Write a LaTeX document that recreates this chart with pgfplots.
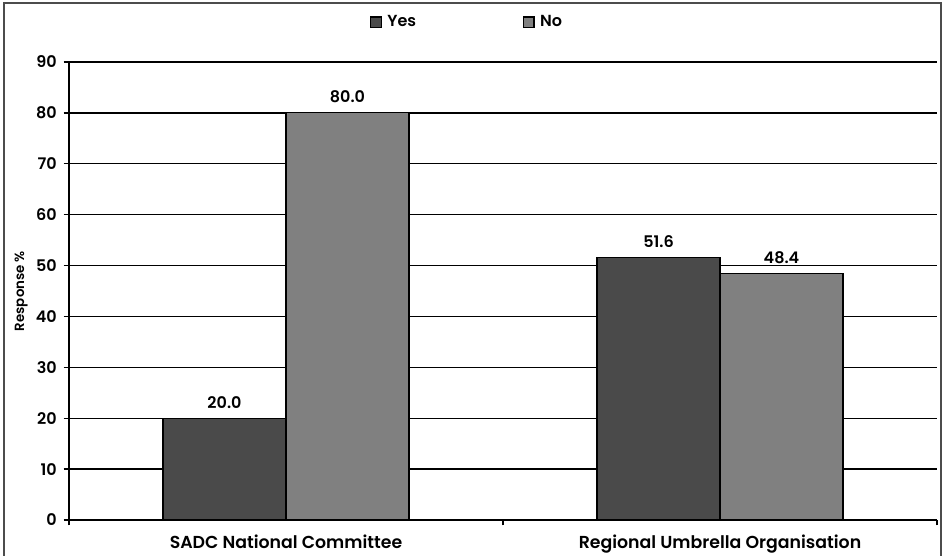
\documentclass[border=0pt]{standalone}
\usepackage{fontspec}
\setmainfont{Poppins}[BoldFont={Poppins SemiBold}]
\usepackage{pgfplots}
\pgfplotsset{compat=1.18}
\definecolor{yescol}{HTML}{4A4A4A}
\definecolor{nocol}{HTML}{808080}
\begin{document}
\fontsize{12pt}{14pt}\selectfont
\begin{tikzpicture}
\useasboundingbox (0,0) rectangle (708.75pt,417pt);
% outer frame (left, top, right)
\draw[line width=1.5pt, color=black!70] (3pt,0) -- (3pt,414.75pt) -- (705.75pt,414.75pt) -- (705.75pt,0);
\begin{axis}[
  at={(51.75pt,27pt)}, anchor=south west,
  scale only axis, width=651pt, height=343.5pt,
  ybar=0pt, bar width=92.25pt,
  xmin=-0.5, xmax=1.5, ymin=0, ymax=90,
  ytick={0,10,...,90},
  axis x line*=bottom, axis y line*=left,
  axis line style={black, line width=1pt, -},
  ymajorgrids, grid style={black, line width=1pt},
  xtick={-0.5,0.5,1.5}, xticklabels={},
  extra x ticks={0,1}, extra x tick labels={SADC National Committee, Regional Umbrella Organisation},
  extra x tick style={major tick length=0pt, grid=none, xticklabel style={yshift=-7pt, font=\fontsize{13pt}{15pt}\selectfont\bfseries}},
  tick align=outside, major tick length=4pt,
  tick style={black, line width=1pt},
  ticklabel style={font=\fontsize{12pt}{14pt}\selectfont\bfseries},
  yticklabel style={xshift=-1pt},
  /pgf/number format/assume math mode=true,
  ylabel={\bfseries Response \%}, ylabel style={font=\fontsize{10pt}{12pt}\selectfont, yshift=-2pt},
  nodes near coords, nodes near coords style={font=\fontsize{12pt}{14pt}\selectfont\bfseries, yshift=3pt, /pgf/number format/.cd, fixed, fixed zerofill, precision=1},
  legend style={at={(0.459,1.087)}, anchor=center, draw=none, legend columns=2, font=\fontsize{12pt}{14pt}\selectfont\bfseries,
    /tikz/every even column/.append style={column sep=78pt},
    /tikz/every odd column/.append style={column sep=2pt}},
  legend image code/.code={\draw[#1, draw=black, line width=1pt] (0cm,-0.14cm) rectangle (0.28cm,0.14cm);},
]
\addplot[fill=yescol, draw=black, line width=0.8pt] coordinates {(0,20.0) (1,51.6)};
\addplot[fill=nocol, draw=black, line width=0.8pt] coordinates {(0,80.0) (1,48.4)};
\legend{Yes, No}
\end{axis}
\end{tikzpicture}
\end{document}
